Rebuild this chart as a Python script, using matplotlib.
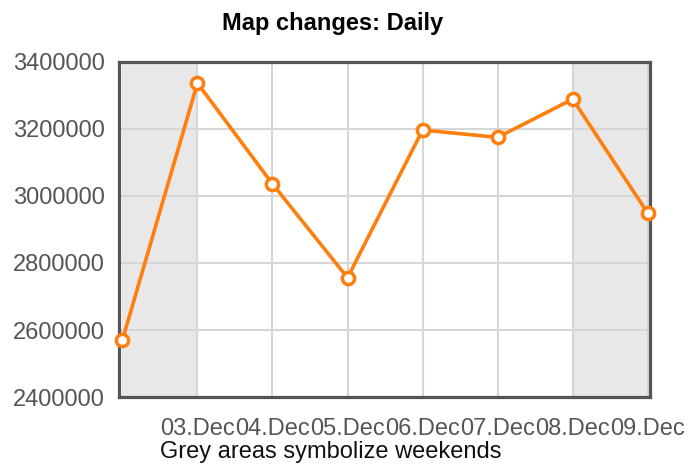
import matplotlib.pyplot as plt

days = ['02.Dec', '03.Dec', '04.Dec', '05.Dec', '06.Dec', '07.Dec', '08.Dec', '09.Dec']
changes = [2570000, 3337000, 3036000, 2756000, 3197000, 3175000, 3289000, 2949000]
weekends = [(0, 1), (6, 7.03)]
yticks = [2400000, 2600000, 2800000, 3000000, 3200000, 3400000]

plt.rcParams['font.family'] = ['Liberation Sans', 'DejaVu Sans']

fig = plt.figure(figsize=(6.95, 4.65), dpi=100)
ax = fig.add_axes([119 / 695, 68 / 465, 531 / 695, 335 / 465])

x = list(range(len(days)))
for start, end in weekends:
    ax.axvspan(start, end, color='#e8e8e8', zorder=0, lw=0)

ax.plot(x, changes, color='#ff7f0e', lw=2.6, marker='o', ms=8.8,
        mfc='white', mec='#ff7f0e', mew=2.5, zorder=3, clip_on=False)

ax.set_xlim(-0.045, 7.03)
ax.set_ylim(yticks[0], yticks[-1])
ax.set_xticks(x[1:], days[1:])
ax.set_yticks(yticks, [str(v) for v in yticks])
ax.grid(color='#d6d6d6', lw=1.5, zorder=1)
ax.set_axisbelow(True)

ax.tick_params(length=0, labelsize=17, colors='#555555')
ax.tick_params(axis='x', pad=15)
ax.tick_params(axis='y', pad=10)
for s in ax.spines.values():
    s.set_color('#555555')
    s.set_linewidth(2.3)

fig.text(333 / 695, (465 - 30) / 465, 'Map changes: Daily', fontsize=17,
         fontweight='bold', ha='center', va='baseline', color='black')
fig.text(160 / 695, (465 - 458) / 465, 'Grey areas symbolize weekends',
         fontsize=17, ha='left', va='baseline', color='#111111')

fig.savefig('out.png', dpi=100)
